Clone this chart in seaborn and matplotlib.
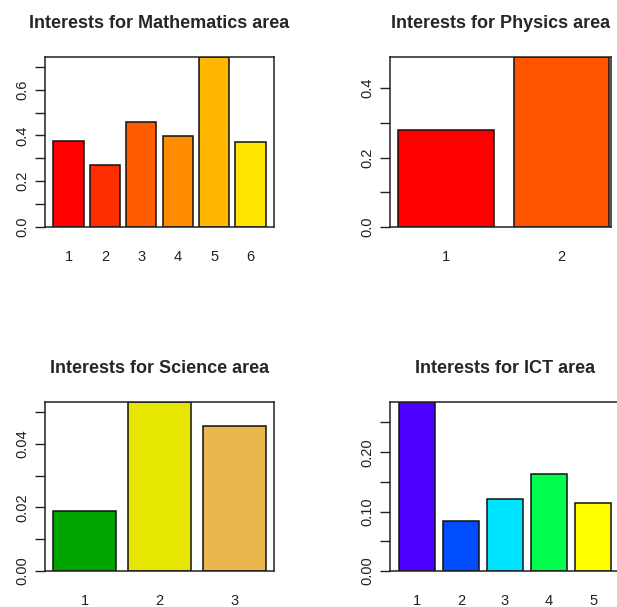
import numpy as np
import matplotlib
matplotlib.use("Agg")
import matplotlib.pyplot as plt
import seaborn as sns

# %%
# values
math_cats = ['1', '2', '3', '4', '5', '6']
math_vals = [0.376, 0.269, 0.458, 0.397, 0.743, 0.371]
math_cols = ['#FF0000', '#FF2E00', '#FF5D00', '#FF8B00', '#FFB700', '#FFE600']

phys_cats = ['1', '2']
phys_vals = [0.279, 0.490]
phys_cols = ['#FF0000', '#FF5300']

sci_cats = ['1', '2', '3']
sci_vals = [0.0190, 0.0532, 0.0457]
sci_cols = ['#00A600', '#E6E600', '#EAB64E']

ict_cats = ['1', '2', '3', '4', '5']
ict_vals = [0.2845, 0.0843, 0.122, 0.164, 0.114]
ict_cols = ['#4C00FF', '#004CFF', '#00E5FF', '#00FF4D', '#FFFF00']

# %%
sns.set_style('white')
plt.rcParams['font.family'] = ['Liberation Sans', 'DejaVu Sans']

W, H = 617, 607
fig = plt.figure(figsize=(W / 100, H / 100), dpi=100)


def panel(box, cats, vals, cols, title, step, fmt, right_pad=None):
    l, t, r, b = box
    ax = fig.add_axes([l / W, 1 - b / H, (r - l) / W, (b - t) / H])
    sns.barplot(x=cats, y=vals, hue=cats, palette=cols, legend=False,
                width=1 / 1.2, edgecolor='#111111', linewidth=1.1,
                saturation=1, ax=ax)
    n = len(cats)
    # R style barplot range: space 0.2 plus 4% extension
    pad = (0.5 + 0.04 * (1.2 * n - 0.2)) / 1.2
    ax.set_xlim(-pad, n - 1 + (pad if right_pad is None else right_pad))
    ax.set_ylim(0, max(vals))
    ticks = np.arange(0, max(vals) + 1e-9, step)
    ax.set_yticks(ticks)
    ax.set_yticklabels([fmt % v if i % 2 == 0 else '' for i, v in enumerate(ticks)],
                       rotation=90, va='center')
    ax.tick_params(axis='y', length=7, width=1, pad=4, labelsize=10.5,
                   colors='#222222', left=True)
    ax.tick_params(axis='x', length=0, pad=16.5, labelsize=10.5, colors='#222222')
    ax.set_xlabel('')
    ax.set_ylabel('')
    for s in ax.spines.values():
        s.set_visible(True)
        s.set_color('#222222')
        s.set_linewidth(1.1)
    ax.set_title(title, fontsize=13, fontweight='bold', pad=21)
    return ax


panel((45, 57, 274, 227), math_cats, math_vals, math_cols,
      'Interests for Mathematics area', 0.1, '%.1f')
panel((390, 57, 611, 227), phys_cats, phys_vals, phys_cols,
      'Interests for Physics area', 0.1, '%.1f', right_pad=0.43)
panel((45, 402, 274, 571), sci_cats, sci_vals, sci_cols,
      'Interests for Science area', 0.01, '%.2f')
panel((390, 402, 620, 571), ict_cats, ict_vals, ict_cols,
      'Interests for ICT area', 0.05, '%.2f')

fig.savefig('out.png', dpi=100, facecolor='white')
